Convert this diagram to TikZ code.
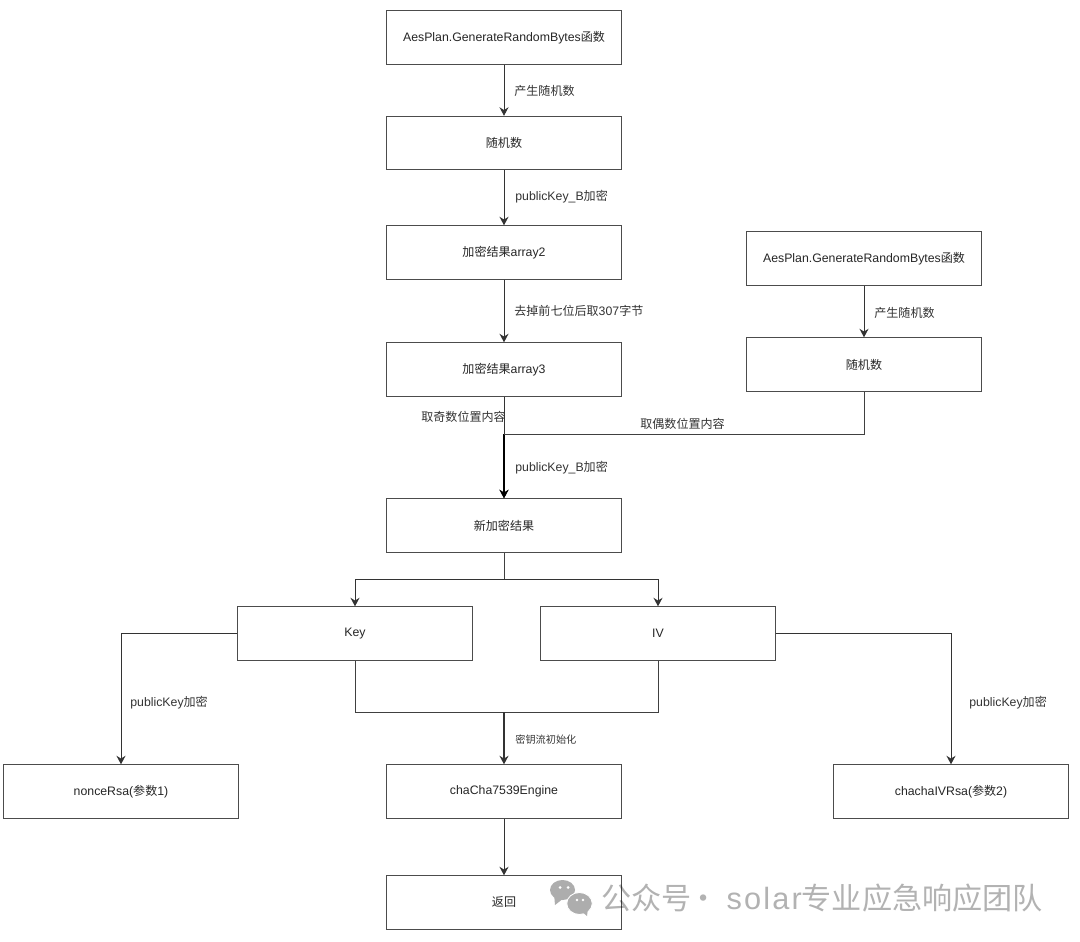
\documentclass[tikz,border=0pt]{standalone}
\usepackage{fontspec}
\usepackage{tikz}
\usetikzlibrary{arrows.meta,positioning}
\setmainfont{Liberation Sans}
\newfontfamily\cjk[Scale=0.98]{Noto Sans CJK SC}
\newcommand{\zh}[1]{{\cjk #1}}

\begin{document}
\begin{tikzpicture}[
  box/.style={draw=black!70, fill=white, line width=0.5pt,
              minimum width=4.7cm, minimum height=1.07cm,
              align=center, text=black!85, font=\fontsize{7pt}{8pt}\selectfont},
  lbl/.style={anchor=west, inner sep=0pt, text=black!80,
              font=\fontsize{7pt}{8pt}\selectfont},
  arrow/.style={-{Stealth[length=1.7mm,width=1.8mm]}, line width=0.55pt, draw=black!80},
  link/.style={line width=0.55pt, draw=black!75},
  mark text/.style={inner sep=0pt, anchor=west, text=black, text opacity=0.3,
              font=\fontsize{17.5pt}{20pt}\selectfont}
]
  \useasboundingbox (0,0) rectangle (21.6,18.82);

  % left column
  \node[box] (aes) at (10.08,18.07) {AesPlan.GenerateRandomBytes\zh{函数}};
  \node[box] (rnd) at (10.08,15.96) {\zh{随机数}};
  \node[box] (array2) at (10.08,13.77) {\zh{加密结果}array2};
  \node[box] (array3) at (10.08,11.43) {\zh{加密结果}array3};
  \node[box] (newres) at (10.08,8.31) {\zh{新加密结果}};

  % right column
  \node[box] (aesb) at (17.28,13.65) {AesPlan.GenerateRandomBytes\zh{函数}};
  \node[box] (rndb) at (17.28,11.53) {\zh{随机数}};

  \node[box] (key) at (7.10,6.15) {Key};
  \node[box] (iv) at (13.16,6.15) {IV};
  \node[box] (nonce) at (2.42,2.99) {nonceRsa(\zh{参数}1)};
  \node[box] (engine) at (10.08,2.99) {chaCha7539Engine};
  \node[box] (chachaiv) at (19.02,2.99) {chachaIVRsa(\zh{参数}2)};
  \node[box] (ret) at (10.08,0.77) {\zh{返回}};

  \coordinate (join) at (10.08,10.14);
  \coordinate (split) at (10.08,7.24);
  \coordinate (merge) at (10.08,4.58);

  \draw[arrow] (aes) -- (rnd);
  \draw[arrow] (rnd) -- (array2);
  \draw[arrow] (array2) -- (array3);
  \draw[arrow] (aesb) -- (rndb);
  \draw[arrow] (array3) -- (newres);
  \draw[arrow, line width=1pt, draw=black] (join) -- (newres);
  \draw[link] (rndb.south) |- (join);
  \draw[link] (newres) -- (split);
  \draw[arrow] (split) -| (key.north);
  \draw[arrow] (split) -| (iv.north);
  \draw[link] (key.south) |- (merge);
  \draw[link] (iv.south) |- (merge);
  \draw[arrow, line width=0.8pt] (merge) -- (engine);
  \draw[arrow] (key.west) -| (nonce.north);
  \draw[arrow] (iv.east) -| (chachaiv.north);
  \draw[arrow] (engine) -- (ret);

  \node[lbl] (l1) at (10.28,17) {\zh{产生随机数}};
  \node[lbl] (l2) at (10.30,14.88) {publicKey\_B\zh{加密}};
  \node[lbl] (l3) at (10.28,12.6) {\zh{去掉前七位后取}307\zh{字节}};
  \node[lbl] (l4) at (17.48,12.56) {\zh{产生随机数}};
  \node[lbl] (l5) at (8.42,10.48) {\zh{取奇数位置内容}};
  \node[lbl] (l6) at (12.8,10.34) {\zh{取偶数位置内容}};
  \node[lbl] (l7) at (10.30,9.46) {publicKey\_B\zh{加密}};
  \node[lbl] (l8) at (2.6,4.76) {publicKey\zh{加密}};
  \node[lbl] (l9) at (19.38,4.76) {publicKey\zh{加密}};
  \node[lbl, font=\fontsize{5.9pt}{7pt}\selectfont] (l10) at (10.30,4.02) {\zh{密钥流初始化}};

  % watermark
  \fill[black!32] (11.25,1.02) ellipse (0.25 and 0.2);
  \fill[black!32] (11.1,0.72) -- (11.08,0.95) -- (11.28,0.86) -- cycle;
  \fill[white] (11.2,1.07) circle (0.03) (11.36,1.07) circle (0.03);
  \fill[black!32, draw=white, line width=0.5pt] (11.59,0.75) ellipse (0.255 and 0.22);
  \fill[black!32] (11.74,0.5) -- (11.62,0.6) -- (11.76,0.66) -- cycle;
  \fill[white] (11.54,0.82) circle (0.028) (11.66,0.82) circle (0.028);
  \node[mark text] (wm) at (12.02,0.86) {\zh{公众号}\kern-0.1em\zh{·}\kern0.25em\addfontfeature{LetterSpace=7}solar\zh{专业应急响应团队}};
\end{tikzpicture}
\end{document}
